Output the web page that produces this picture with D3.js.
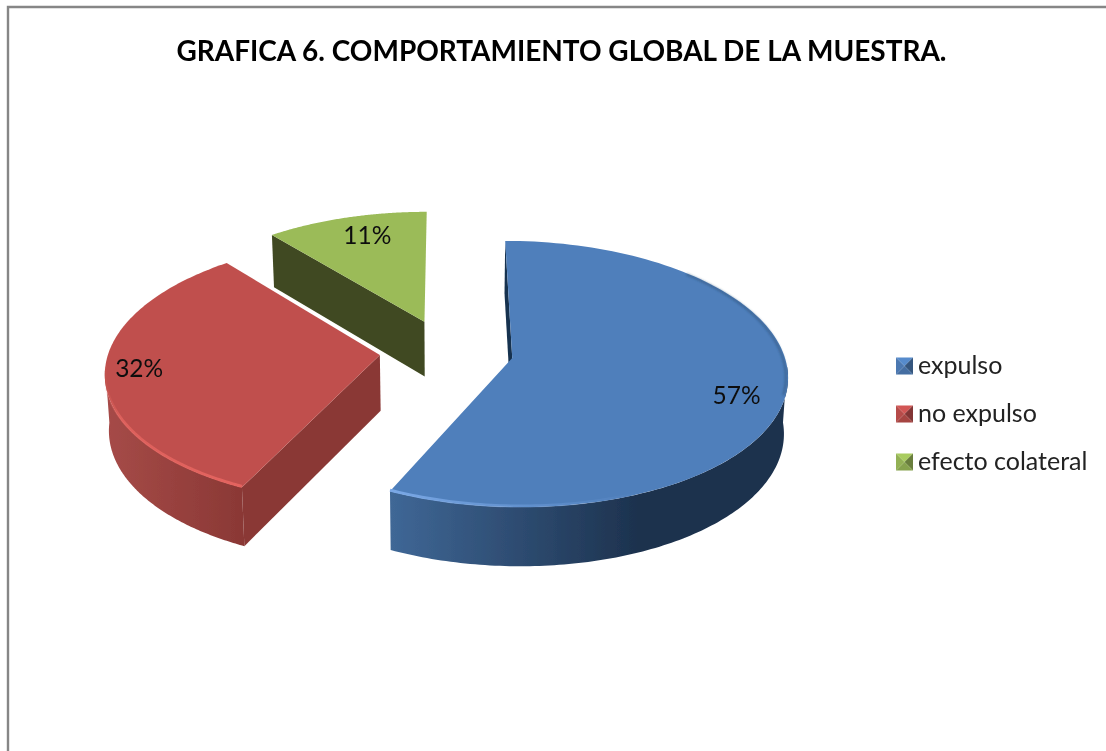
<!DOCTYPE html>
<html>
<head>
<meta charset="utf-8">
<script src="https://cdnjs.cloudflare.com/ajax/libs/d3/7.8.5/d3.min.js"></script>
<style>
html, body { margin: 0; padding: 0; background: #fff; overflow: hidden; }
text { font-family: Lato, "Open Sans", sans-serif; }
</style>
</head>
<body>
<svg id="chart" width="1106" height="751"></svg>
<script>
var titleText = "GRAFICA 6. COMPORTAMIENTO GLOBAL DE LA MUESTRA.";
var categories = ["expulso", "no expulso", "efecto colateral"];
var values = [57, 32, 11];
var topColors = ["#4f7fbb", "#c0504d", "#9bbb59"];
var rimColors = ["#7aa8e6", "#e4645f", "#b5d56f"];
var wallLight = ["#3f6796", "#a64b48", "#5c6b2e"];
var wallDark = ["#1d324e", "#8a3835", "#404a20"];

// pie plane -> screen. Excel's perspective pie, fitted by hand
var originX = 446.5, originY = 351;
var radiusX = 271, radiusY = 129.5, perspective = 0.119;
var depth = 55.5, explode = 0.247;

var svg = d3.select("#chart");
var defs = svg.append("defs");

defs.append("filter").attr("id", "soft")
	.attr("x", "-5%").attr("y", "-5%").attr("width", "110%").attr("height", "110%")
	.append("feGaussianBlur").attr("stdDeviation", 0.45);
defs.append("filter").attr("id", "softer")
	.attr("x", "-5%").attr("y", "-5%").attr("width", "110%").attr("height", "110%")
	.append("feGaussianBlur").attr("stdDeviation", 1);

var project = function(px, py, z) {
	var k = 1 / (1 - perspective * py);
	var sx = originX + radiusX * px * k;
	var sy = originY + radiusY * py * k;
	if (z) {
		sx -= (sx - originX) * 0.012;
		sy += depth / (1 - perspective * py * 0.5);
	}
	return [sx, sy];
};

var line = d3.line();

var arcs = d3.pie().sort(null).startAngle(0).endAngle(2 * Math.PI)(values);

arcs.forEach(function(d) {
	var mid = (d.startAngle + d.endAngle) / 2;
	d.mid = mid;
	d.dx = Math.sin(mid) * explode;
	d.dy = -Math.cos(mid) * explode;
	d.at = function(angle, r, z) {
		return project(d.dx + Math.sin(angle) * r, d.dy - Math.cos(angle) * r, z);
	};
	d.sweep = function(a0, a1, z, r) {
		return d3.range(0, 121).map(function(i) {
			return d.at(a0 + (a1 - a0) * i / 120, r || 1, z);
		});
	};
});

var frontAngle = function(d) {
	// the part of the outer edge that faces the viewer
	var from = Math.max(d.startAngle, Math.PI / 2 + 0.065);
	var to = Math.min(d.endAngle, 3 * Math.PI / 2 - 0.09);
	return from < to ? [from, to] : null;
};

function wallGradient(id, x1, x2, stops) {
	var g = defs.append("linearGradient").attr("id", id)
		.attr("gradientUnits", "userSpaceOnUse")
		.attr("x1", x1).attr("x2", x2).attr("y1", 0).attr("y2", 0);
	stops.forEach(function(s) {
		g.append("stop").attr("offset", s[0]).attr("stop-color", s[1]).attr("stop-opacity", s[2] === undefined ? 1 : s[2]);
	});
}

wallGradient("wall0", 391, 789, [[0, wallLight[0]], [0.62, wallDark[0]], [1, wallDark[0]]]);
wallGradient("wall1", 104, 244, [[0, wallLight[1]], [1, wallDark[1]]]);
wallGradient("rim0", 391, 640, [[0, rimColors[0]], [0.35, rimColors[0], 0.6], [1, rimColors[0], 0]]);
wallGradient("rim1", 104, 244, [[0, rimColors[1], 0], [0.12, rimColors[1], 0.8], [1, rimColors[1]]]);

var slices = svg.append("g").attr("filter", "url(#soft)");

// back slice first
[2, 1, 0].forEach(function(i) {
	var d = arcs[i];
	var g = slices.append("g").attr("class", "slice" + i);
	var apexTop = d.at(0, 0), apexLow = d.at(0, 0, true);

	// cut wall on the start side
	g.append("path")
		.attr("d", line([apexTop, apexLow, d.at(d.startAngle, 1, true), d.at(d.startAngle, 1)]) + "Z")
		.attr("fill", i === 0 ? "#17324f" : wallDark[i]);

	// outer wall
	var front = frontAngle(d);
	if (front) {
		var upper = d.sweep(front[0], front[1]);
		var lower = d.sweep(front[1], front[0], true);
		g.append("path")
			.attr("d", line(upper.concat(lower)) + "Z")
			.attr("fill", "url(#wall" + i + ")");
	}

	// top face
	g.append("path")
		.attr("d", line([apexTop].concat(d.sweep(d.startAngle, d.endAngle))) + "Z")
		.attr("fill", topColors[i]);

	// bevel along the front rim
	if (front) {
		g.append("path")
			.attr("d", line(d.sweep(front[0], front[1]).map(function(p) { return [p[0], p[1] - 1]; })))
			.attr("fill", "none")
			.attr("stroke", "url(#rim" + i + ")")
			.attr("stroke-width", 3);
	}
});

// dark soft edge on the far right of the blue top, kept inside the face
svg.append("path")
	.attr("d", line(arcs[0].sweep(0.8, 1.85, false, 0.992)))
	.attr("fill", "none")
	.attr("stroke", "#2b4a70")
	.attr("stroke-opacity", 0.55)
	.attr("stroke-width", 2)
	.attr("filter", "url(#softer)");

// chart frame, only top and left are inside the crop
svg.append("path")
	.attr("d", "M1106,7H8V751")
	.attr("fill", "none")
	.attr("stroke", "#868686")
	.attr("stroke-width", 2.4);

svg.append("text")
	.attr("x", 561.5).attr("y", 60.5)
	.attr("text-anchor", "middle")
	.attr("font-size", 29)
	.attr("font-weight", 700)
	.attr("fill", "#000")
	.attr("textLength", 770)
	.attr("lengthAdjust", "spacingAndGlyphs")
	.attr("filter", "url(#soft)")
	.text(titleText);

// data labels, placed along each slice's own radius
var labelRadius = [0.834, 0.877, 0.81];
var labelShift = [0.117, 0.013, 0.04];
svg.append("g").selectAll("text")
	.data(arcs)
	.join("text")
	.attr("x", function(d, i) { return d.at(d.mid + labelShift[i], labelRadius[i])[0]; })
	.attr("y", function(d, i) { return d.at(d.mid + labelShift[i], labelRadius[i])[1] + 9; })
	.attr("text-anchor", "middle")
	.attr("font-size", 24.5)
	.attr("fill", "#111")
	.attr("filter", "url(#soft)")
	.text(function(d) { return d.value + "%"; });

// legend
var legendY = d3.scalePoint().domain(categories).range([366, 462]);
var swatch = 17;
var legend = svg.append("g").attr("filter", "url(#soft)")
	.selectAll("g")
	.data(categories)
	.join("g")
	.attr("transform", function(d) { return "translate(896," + legendY(d) + ")"; });

legend.each(function(d, i) {
	var g = d3.select(this);
	var h = swatch / 2;
	var color = d3.color(topColors[i]);
	var tris = [
		[[0, -h], [swatch, -h], [h, 0], color.brighter(0.25)],
		[[0, -h], [0, h], [h, 0], color.darker(0.15)],
		[[swatch, -h], [swatch, h], [h, 0], color.darker(1.1)],
		[[0, h], [swatch, h], [h, 0], color.darker(0.4)]
	];
	tris.forEach(function(t) {
		g.append("path").attr("d", line(t.slice(0, 3)) + "Z").attr("fill", t[3]);
	});
	g.append("text")
		.attr("x", 22).attr("y", 8)
		.attr("font-size", 25)
		.attr("fill", "#222")
		.text(d);
});
</script>
</body>
</html>
